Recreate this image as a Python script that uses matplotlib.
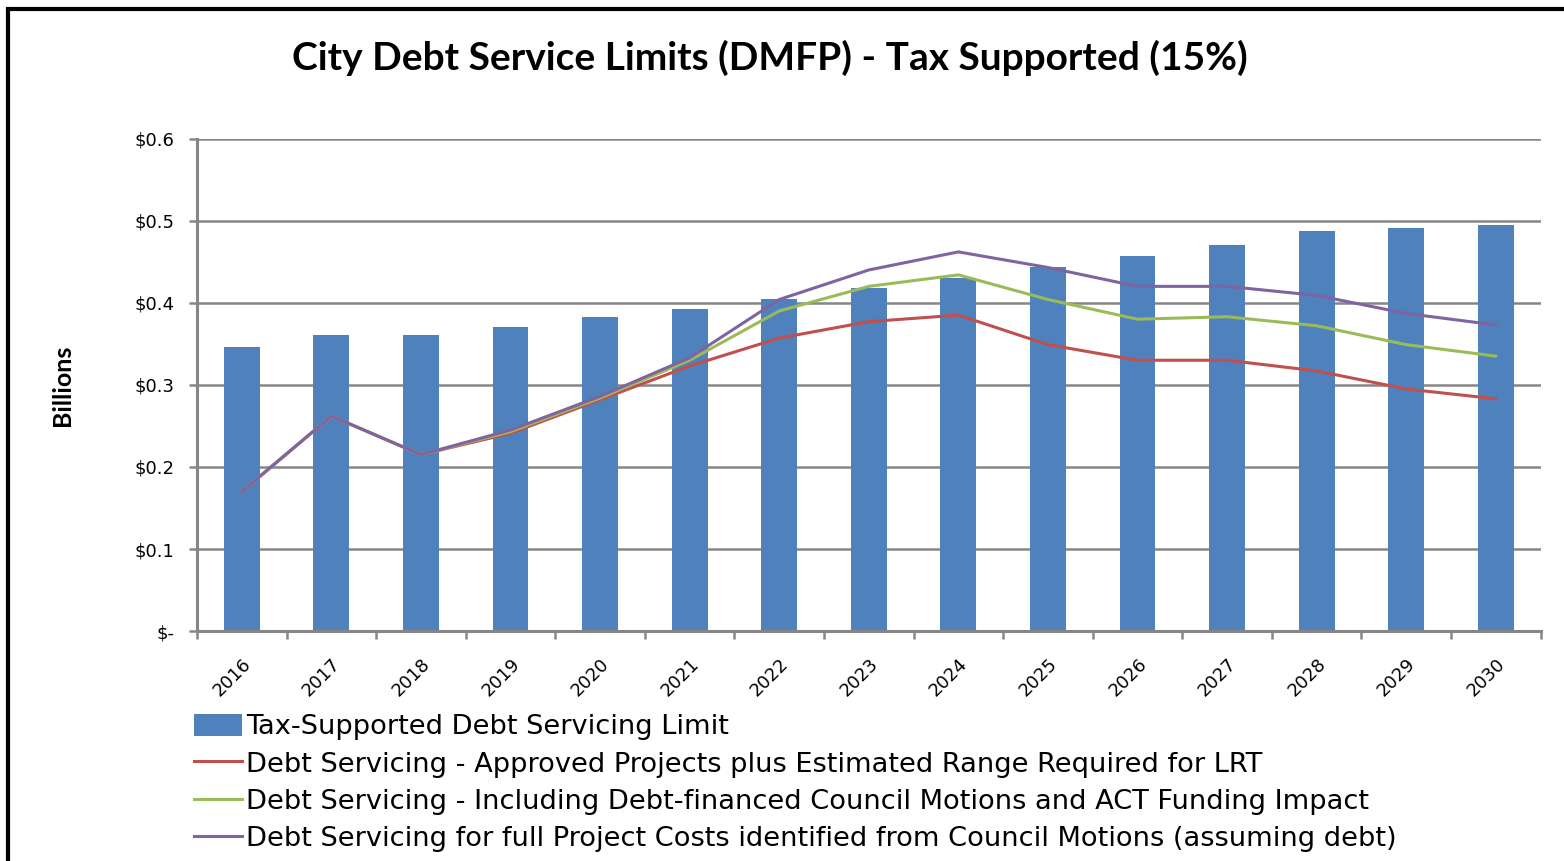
import numpy as np
import matplotlib.pyplot as plt
from matplotlib.patches import Rectangle

# =========================
# data (billions)
# =========================
years = ['2016', '2017', '2018', '2019', '2020', '2021', '2022', '2023',
         '2024', '2025', '2026', '2027', '2028', '2029', '2030']
limit = [0.346, 0.361, 0.361, 0.371, 0.383, 0.393, 0.405, 0.418,
         0.430, 0.444, 0.457, 0.471, 0.487, 0.491, 0.495]
approved = [0.170, 0.262, 0.215, 0.241, 0.282, 0.323, 0.357, 0.377,
            0.385, 0.349, 0.330, 0.330, 0.317, 0.295, 0.283]
councilAct = [0.170, 0.262, 0.215, 0.243, 0.284, 0.330, 0.390, 0.420,
              0.434, 0.404, 0.380, 0.383, 0.372, 0.349, 0.335]
fullCosts = [0.170, 0.262, 0.215, 0.245, 0.286, 0.333, 0.404, 0.440,
             0.462, 0.443, 0.420, 0.420, 0.409, 0.387, 0.373]

labels = ['Tax-Supported Debt Servicing Limit',
          'Debt Servicing - Approved Projects plus Estimated Range Required for LRT',
          'Debt Servicing - Including Debt-financed Council Motions and ACT Funding Impact',
          'Debt Servicing for full Project Costs identified from Council Motions (assuming debt)']
colors = ['#4F81BD', '#C0504D', '#9BBB59', '#8064A2']
yticks = [0, 0.1, 0.2, 0.3, 0.4, 0.5, 0.6]
ytickLabels = ['$-', '$0.1', '$0.2', '$0.3', '$0.4', '$0.5', '$0.6']

plt.rcParams['font.family'] = ['DejaVu Sans']

fig = plt.figure(figsize=(15.64, 8.61), dpi=100)
ax = fig.add_axes([0.126, 0.267, 0.859, 0.572])

x = np.arange(len(years))
bars = ax.bar(x, limit, width=0.4, color=colors[0], label=labels[0], zorder=2)
l1, = ax.plot(x, approved, color=colors[1], lw=2.2, label=labels[1], zorder=3)
l2, = ax.plot(x, councilAct, color=colors[2], lw=2.2, label=labels[2], zorder=4)
l3, = ax.plot(x, fullCosts, color=colors[3], lw=2.2, label=labels[3], zorder=5)

ax.set_xlim(-0.5, len(years) - 0.5)
ax.set_ylim(0, 0.6)
ax.set_yticks(yticks)
ax.set_yticklabels(ytickLabels, fontsize=13)
ax.yaxis.grid(True, color='#868686', lw=1.8, zorder=0)
ax.set_axisbelow(True)

ax.set_xticks(x)
ax.set_xticklabels(years, rotation=45, ha='right', rotation_mode='anchor', fontsize=13)
ax.set_xticks(np.arange(-0.5, len(years)), minor=True)
ax.tick_params(axis='x', which='major', length=0, pad=17)
ax.tick_params(axis='x', which='minor', length=6, width=1.8, color='#868686')
ax.tick_params(axis='y', length=6, width=1.8, color='#868686', pad=10)

for side in ['top', 'right']:
    ax.spines[side].set_visible(False)
for side in ['left', 'bottom']:
    ax.spines[side].set_color('#868686')
    ax.spines[side].set_linewidth(2.2)

ax.set_ylabel('Billions', fontsize=18, fontweight='bold', family='Lato', labelpad=44)

fig.text(0.492, 0.933, 'City Debt Service Limits (DMFP) - Tax Supported (15%)',
         ha='center', va='center', fontsize=28, fontweight='bold', family='Lato')

fig.legend([bars, l1, l2, l3], labels, loc='upper left', bbox_to_anchor=(0.124, 0.171),
           frameon=False, fontsize=19.6, handlelength=1.75, handleheight=0.9,
           handletextpad=0.15, labelspacing=0.39, borderaxespad=0, borderpad=0)

# outer chart border
fig.patches.append(Rectangle((0.005, -0.01), 1.2, 1.0, transform=fig.transFigure,
                             fill=False, edgecolor='black', lw=3))

fig.savefig('out.png', dpi=100)
plt.close()
